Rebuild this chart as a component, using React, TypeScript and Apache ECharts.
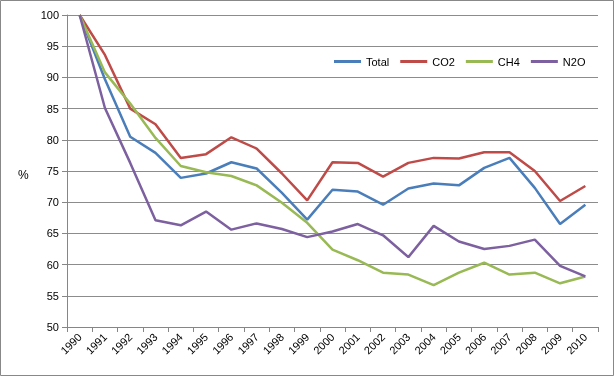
import React, { useEffect, useRef } from "react";
import * as echarts from "echarts";

const years = ["1990","1991","1992","1993","1994","1995","1996","1997","1998","1999","2000","2001","2002","2003","2004","2005","2006","2007","2008","2009","2010"];
const total = [100, 89.7, 80.5, 77.9, 73.9, 74.6, 76.4, 75.4, 71.5, 67.2, 72.0, 71.7, 69.6, 72.2, 73.0, 72.7, 75.5, 77.1, 72.3, 66.5, 69.6];
const co2 = [100, 93.6, 85.0, 82.5, 77.1, 77.7, 80.4, 78.6, 74.6, 70.3, 76.4, 76.3, 74.1, 76.3, 77.1, 77.0, 78.0, 78.0, 75.0, 70.2, 72.6];
const ch4 = [100, 90.8, 85.8, 80.3, 75.8, 74.8, 74.2, 72.7, 69.9, 66.7, 62.4, 60.7, 58.7, 58.4, 56.7, 58.7, 60.3, 58.4, 58.7, 57.0, 58.1];
const n2o = [100, 85.1, 76.3, 67.1, 66.3, 68.5, 65.6, 66.6, 65.7, 64.4, 65.3, 66.5, 64.7, 61.2, 66.2, 63.7, 62.5, 63.0, 64.0, 59.8, 58.1];
const seriesNames = ["Total", "CO2", "CH4", "N2O"];
const colors = ["#4A7EBB", "#BE4B48", "#98B954", "#7D60A0"];

export default function App() {
  const ref = useRef<HTMLDivElement>(null);
  useEffect(() => {
    const chart = echarts.init(ref.current!, null, { renderer: "svg" });
    const data = [total, co2, ch4, n2o];
    chart.setOption({
      animation: false,
      textStyle: { fontFamily: "Liberation Sans, Arial, sans-serif" },
      graphic: [
        {
          type: "rect",
          shape: { x: 0.5, y: 0.5, width: 613, height: 375 },
          style: { fill: "none", stroke: "#888", lineWidth: 1 },
          silent: true,
        },
        {
          type: "text",
          left: 18,
          top: 169,
          style: { text: "%", fontSize: 12, fill: "#000", fontFamily: "Liberation Sans, Arial, sans-serif" },
        },
      ],
      legend: {
        left: 329,
        top: 51,
        itemWidth: 27,
        itemHeight: 3,
        itemGap: 11,
        icon: "rect",
        textStyle: { fontSize: 11, color: "#000" },
        data: seriesNames,
      },
      grid: { left: 67, right: 16, top: 15, bottom: 49, containLabel: false },
      xAxis: {
        type: "category",
        data: years,
        boundaryGap: true,
        axisLine: { lineStyle: { color: "#868686" } },
        axisTick: { show: true, alignWithLabel: false, length: 5, lineStyle: { color: "#868686" } },
        axisLabel: { rotate: 45, fontSize: 11, color: "#000", margin: 8, interval: 0 },
      },
      yAxis: {
        type: "value",
        min: 50,
        max: 100,
        interval: 5,
        axisLine: { show: true, lineStyle: { color: "#868686" } },
        axisTick: { show: true, length: 5, lineStyle: { color: "#868686" } },
        axisLabel: { fontSize: 11, color: "#000", margin: 8 },
        splitLine: { lineStyle: { color: "#8c8c8c", width: 1 } },
      },
      series: seriesNames.map((name, i) => ({
        name,
        type: "line",
        data: data[i],
        symbol: "none",
        lineStyle: { width: 2.5, color: colors[i] },
        itemStyle: { color: colors[i] },
      })),
    });
    return () => chart.dispose();
  }, []);
  return <div ref={ref} style={{ position: "fixed", left: 0, top: 0, width: 614, height: 376 }} />;
}
